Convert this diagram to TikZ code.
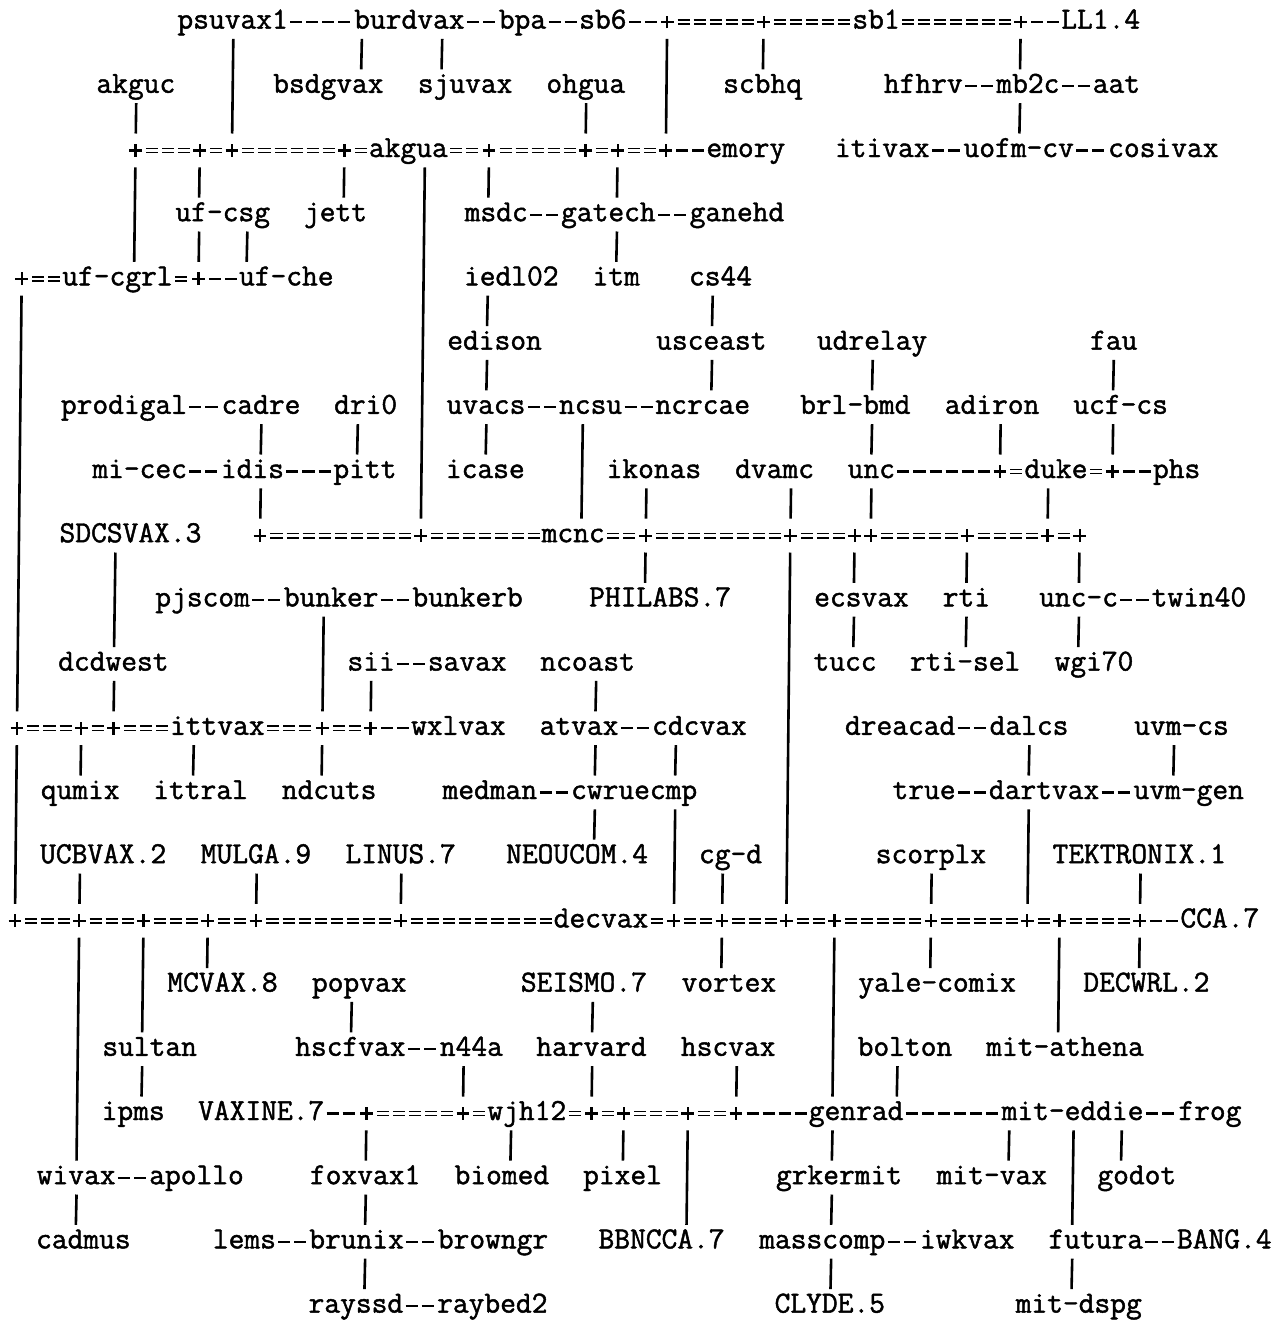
\documentclass[tikz,border=0pt]{standalone}
\usepackage{fontspec}
\newfontfamily\hostfont{Latin Modern Mono}[FakeBold=1.5]
\newcommand{\cw}{8.035pt}
\newcommand{\junc}{\rlap{\rule[-0.55pt]{6.4pt}{1.1pt}}\hspace*{2.65pt}\rule[-3.2pt]{1.1pt}{6.4pt}\hspace*{2.65pt}}

\begin{document}
\begin{tikzpicture}[x=8.035pt, y={(-0.1685pt,-16.05pt)},
    host/.style={anchor=west, inner sep=0pt, text height=11.55pt, text depth=4.95pt,
      font=\hostfont\fontsize{15.3pt}{17pt}\selectfont},
    jn/.style={inner sep=0pt, minimum width=\cw, minimum height=16.5pt},
    link/.style={line width=1.1pt, dash pattern=on 6.035pt off 2pt, dash phase=7.035pt},
    trunk/.style={line width=0.8pt, double=white, double distance=1.3pt,
      dash pattern=on 6.035pt off 2pt, dash phase=7.035pt},
    bar/.style={line width=1.3pt}]
    \fill[white] (-12.2pt,11pt) rectangle (628.8pt,-650.5pt);
    \useasboundingbox (-12.2pt,11pt) rectangle (628.8pt,-650.5pt);

    % Draw nodes
    \node[host] (psuvax1) at (9.5,0) {psuvax1};
    \node[host] (burdvax) at (20.5,0) {burdvax};
    \node[host] (bpa) at (29.5,0) {bpa};
    \node[host] (sb6) at (34.5,0) {sb6};
    \node[jn] (j0a) at (40,0) {\junc};
    \node[jn] (j0b) at (46,0) {\junc};
    \node[host] (sb1) at (51.5,0) {sb1};
    \node[jn] (j0c) at (62,0) {\junc};
    \node[host] (LL14) at (64.5,0) {LL1.4};

    \node[host] (akguc) at (4.5,2) {akguc};
    \node[host] (bsdgvax) at (15.5,2) {bsdgvax};
    \node[host] (sjuvax) at (24.5,2) {sjuvax};
    \node[host] (ohgua) at (32.5,2) {ohgua};
    \node[host] (scbhq) at (43.5,2) {scbhq};
    \node[host] (hfhrv) at (53.5,2) {hfhrv};
    \node[host] (mb2c) at (60.5,2) {mb2c};
    \node[host] (aat) at (66.5,2) {aat};

    \node[jn] (j2a) at (7,4) {\junc};
    \node[jn] (j2b) at (11,4) {\junc};
    \node[jn] (j2c) at (13,4) {\junc};
    \node[jn] (j2d) at (20,4) {\junc};
    \node[host] (akgua) at (21.5,4) {akgua};
    \node[jn] (j2e) at (29,4) {\junc};
    \node[jn] (j2f) at (35,4) {\junc};
    \node[jn] (j2g) at (37,4) {\junc};
    \node[jn] (j2h) at (40,4) {\junc};
    \node[host] (emory) at (42.5,4) {emory};
    \node[host] (itivax) at (50.5,4) {itivax};
    \node[host] (uofmcv) at (58.5,4) {uofm-cv};
    \node[host] (cosivax) at (67.5,4) {cosivax};

    \node[host] (ufcsg) at (9.5,6) {uf-csg};
    \node[host] (jett) at (17.5,6) {jett};
    \node[host] (msdc) at (27.5,6) {msdc};
    \node[host] (gatech) at (33.5,6) {gatech};
    \node[host] (ganehd) at (41.5,6) {ganehd};

    \node[jn] (j4a) at (0,8) {\junc};
    \node[host] (ufcgrl) at (2.5,8) {uf-cgrl};
    \node[jn] (j4b) at (11,8) {\junc};
    \node[host] (ufche) at (13.5,8) {uf-che};
    \node[host] (iedl02) at (27.5,8) {iedl02};
    \node[host] (itm) at (35.5,8) {itm};
    \node[host] (cs44) at (41.5,8) {cs44};

    \node[host] (edison) at (26.5,10) {edison};
    \node[host] (usceast) at (39.5,10) {usceast};
    \node[host] (udrelay) at (49.5,10) {udrelay};
    \node[host] (fau) at (66.5,10) {fau};

    \node[host] (prodigal) at (2.5,12) {prodigal};
    \node[host] (cadre) at (12.5,12) {cadre};
    \node[host] (dri0) at (19.5,12) {dri0};
    \node[host] (uvacs) at (26.5,12) {uvacs};
    \node[host] (ncsu) at (33.5,12) {ncsu};
    \node[host] (ncrcae) at (39.5,12) {ncrcae};
    \node[host] (brlbmd) at (48.5,12) {brl-bmd};
    \node[host] (adiron) at (57.5,12) {adiron};
    \node[host] (ucfcs) at (65.5,12) {ucf-cs};

    \node[host] (micec) at (4.5,14) {mi-cec};
    \node[host] (idis) at (12.5,14) {idis};
    \node[host] (pitt) at (19.5,14) {pitt};
    \node[host] (icase) at (26.5,14) {icase};
    \node[host] (ikonas) at (36.5,14) {ikonas};
    \node[host] (dvamc) at (44.5,14) {dvamc};
    \node[host] (unc) at (51.5,14) {unc};
    \node[jn] (j7a) at (61,14) {\junc};
    \node[host] (duke) at (62.5,14) {duke};
    \node[jn] (j7b) at (68,14) {\junc};
    \node[host] (phs) at (70.5,14) {phs};

    \node[host] (sdcsvax) at (2.5,16) {SDCSVAX.3};
    \node[jn] (j8a) at (15,16) {\junc};
    \node[jn] (j8b) at (25,16) {\junc};
    \node[host] (mcnc) at (32.5,16) {mcnc};
    \node[jn] (j8c) at (39,16) {\junc};
    \node[jn] (j8d) at (48,16) {\junc};
    \node[jn] (j8e) at (52,16) {\junc};
    \node[jn] (j8f) at (53,16) {\junc};
    \node[jn] (j8g) at (59,16) {\junc};
    \node[jn] (j8h) at (64,16) {\junc};
    \node[jn] (j8i) at (66,16) {\junc};

    \node[host] (pjscom) at (8.5,18) {pjscom};
    \node[host] (bunker) at (16.5,18) {bunker};
    \node[host] (bunkerb) at (24.5,18) {bunkerb};
    \node[host] (philabs) at (35.5,18) {PHILABS.7};
    \node[host] (ecsvax) at (49.5,18) {ecsvax};
    \node[host] (rti) at (57.5,18) {rti};
    \node[host] (uncc) at (63.5,18) {unc-c};
    \node[host] (twin40) at (70.5,18) {twin40};

    \node[host] (dcdwest) at (2.5,20) {dcdwest};
    \node[host] (sii) at (20.5,20) {sii};
    \node[host] (savax) at (25.5,20) {savax};
    \node[host] (ncoast) at (32.5,20) {ncoast};
    \node[host] (tucc) at (49.5,20) {tucc};
    \node[host] (rtisel) at (55.5,20) {rti-sel};
    \node[host] (wgi70) at (64.5,20) {wgi70};

    \node[jn] (j11a) at (0,22) {\junc};
    \node[jn] (j11b) at (4,22) {\junc};
    \node[jn] (j11c) at (6,22) {\junc};
    \node[host] (ittvax) at (9.5,22) {ittvax};
    \node[jn] (j11d) at (19,22) {\junc};
    \node[jn] (j11e) at (22,22) {\junc};
    \node[host] (wxlvax) at (24.5,22) {wxlvax};
    \node[host] (atvax) at (32.5,22) {atvax};
    \node[host] (cdcvax) at (39.5,22) {cdcvax};
    \node[host] (dreacad) at (51.5,22) {dreacad};
    \node[host] (dalcs) at (60.5,22) {dalcs};
    \node[host] (uvmcs) at (69.5,22) {uvm-cs};

    \node[host] (qumix) at (1.5,24) {qumix};
    \node[host] (ittral) at (8.5,24) {ittral};
    \node[host] (ndcuts) at (16.5,24) {ndcuts};
    \node[host] (medman) at (26.5,24) {medman};
    \node[host] (cwruecmp) at (34.5,24) {cwruecmp};
    \node[host] (true) at (54.5,24) {true};
    \node[host] (dartvax) at (60.5,24) {dartvax};
    \node[host] (uvmgen) at (69.5,24) {uvm-gen};

    \node[host] (ucbvax) at (1.5,26) {UCBVAX.2};
    \node[host] (mulga) at (11.5,26) {MULGA.9};
    \node[host] (linus) at (20.5,26) {LINUS.7};
    \node[host] (neoucom) at (30.5,26) {NEOUCOM.4};
    \node[host] (cgd) at (42.5,26) {cg-d};
    \node[host] (scorplx) at (53.5,26) {scorplx};
    \node[host] (tektronix) at (64.5,26) {TEKTRONIX.1};

    \node[jn] (j14a) at (0,28) {\junc};
    \node[jn] (j14b) at (4,28) {\junc};
    \node[jn] (j14c) at (8,28) {\junc};
    \node[jn] (j14d) at (12,28) {\junc};
    \node[jn] (j14e) at (15,28) {\junc};
    \node[jn] (j14f) at (24,28) {\junc};
    \node[host] (decvax) at (33.5,28) {decvax};
    \node[jn] (j14g) at (41,28) {\junc};
    \node[jn] (j14h) at (44,28) {\junc};
    \node[jn] (j14i) at (48,28) {\junc};
    \node[jn] (j14j) at (51,28) {\junc};
    \node[jn] (j14k) at (57,28) {\junc};
    \node[jn] (j14l) at (63,28) {\junc};
    \node[jn] (j14m) at (65,28) {\junc};
    \node[jn] (j14n) at (70,28) {\junc};
    \node[host] (cca) at (72.5,28) {CCA.7};

    \node[host] (mcvax) at (9.5,30) {MCVAX.8};
    \node[host] (popvax) at (18.5,30) {popvax};
    \node[host] (seismo) at (31.5,30) {SEISMO.7};
    \node[host] (vortex) at (41.5,30) {vortex};
    \node[host] (yalecomix) at (52.5,30) {yale-comix};
    \node[host] (decwrl) at (66.5,30) {DECWRL.2};

    \node[host] (sultan) at (5.5,32) {sultan};
    \node[host] (hscfvax) at (17.5,32) {hscfvax};
    \node[host] (n44a) at (26.5,32) {n44a};
    \node[host] (harvard) at (32.5,32) {harvard};
    \node[host] (hscvax) at (41.5,32) {hscvax};
    \node[host] (bolton) at (52.5,32) {bolton};
    \node[host] (mitathena) at (60.5,32) {mit-athena};

    \node[host] (ipms) at (5.5,34) {ipms};
    \node[host] (vaxine) at (11.5,34) {VAXINE.7};
    \node[jn] (j17a) at (22,34) {\junc};
    \node[jn] (j17b) at (28,34) {\junc};
    \node[host] (wjh12) at (29.5,34) {wjh12};
    \node[jn] (j17c) at (36,34) {\junc};
    \node[jn] (j17d) at (38,34) {\junc};
    \node[jn] (j17e) at (42,34) {\junc};
    \node[jn] (j17f) at (45,34) {\junc};
    \node[host] (genrad) at (49.5,34) {genrad};
    \node[host] (miteddie) at (61.5,34) {mit-eddie};
    \node[host] (frog) at (72.5,34) {frog};

    \node[host] (wivax) at (1.5,36) {wivax};
    \node[host] (apollo) at (8.5,36) {apollo};
    \node[host] (foxvax1) at (18.5,36) {foxvax1};
    \node[host] (biomed) at (27.5,36) {biomed};
    \node[host] (pixel) at (35.5,36) {pixel};
    \node[host] (grkermit) at (47.5,36) {grkermit};
    \node[host] (mitvax) at (57.5,36) {mit-vax};
    \node[host] (godot) at (67.5,36) {godot};

    \node[host] (cadmus) at (1.5,38) {cadmus};
    \node[host] (lems) at (12.5,38) {lems};
    \node[host] (brunix) at (18.5,38) {brunix};
    \node[host] (browngr) at (26.5,38) {browngr};
    \node[host] (bbncca) at (36.5,38) {BBNCCA.7};
    \node[host] (masscomp) at (46.5,38) {masscomp};
    \node[host] (iwkvax) at (56.5,38) {iwkvax};
    \node[host] (futura) at (64.5,38) {futura};
    \node[host] (bang) at (72.5,38) {BANG.4};

    \node[host] (rayssd) at (18.5,40) {rayssd};
    \node[host] (raybed2) at (26.5,40) {raybed2};
    \node[host] (clyde) at (47.5,40) {CLYDE.5};
    \node[host] (mitdspg) at (62.5,40) {mit-dspg};

    % Draw connections along the lines
    \draw[link] (psuvax1) -- (burdvax);
    \draw[link] (burdvax) -- (bpa);
    \draw[link] (bpa) -- (sb6);
    \draw[link] (sb6) -- (j0a);
    \draw[trunk] (j0a) -- (j0b);
    \draw[trunk] (j0b) -- (sb1);
    \draw[trunk] (sb1) -- (j0c);
    \draw[link] (j0c) -- (LL14);
    \draw[link] (hfhrv) -- (mb2c);
    \draw[link] (mb2c) -- (aat);
    \draw[trunk] (j2a) -- (j2b);
    \draw[trunk] (j2b) -- (j2c);
    \draw[trunk] (j2c) -- (j2d);
    \draw[trunk] (j2d) -- (akgua);
    \draw[trunk] (akgua) -- (j2e);
    \draw[trunk] (j2e) -- (j2f);
    \draw[trunk] (j2f) -- (j2g);
    \draw[trunk] (j2g) -- (j2h);
    \draw[link] (j2h) -- (emory);
    \draw[link] (itivax) -- (uofmcv);
    \draw[link] (uofmcv) -- (cosivax);
    \draw[link] (msdc) -- (gatech);
    \draw[link] (gatech) -- (ganehd);
    \draw[trunk] (j4a) -- (ufcgrl);
    \draw[trunk] (ufcgrl) -- (j4b);
    \draw[link] (j4b) -- (ufche);
    \draw[link] (prodigal) -- (cadre);
    \draw[link] (uvacs) -- (ncsu);
    \draw[link] (ncsu) -- (ncrcae);
    \draw[link] (micec) -- (idis);
    \draw[link] (idis) -- (pitt);
    \draw[link] (unc) -- (j7a);
    \draw[trunk] (j7a) -- (duke);
    \draw[trunk] (duke) -- (j7b);
    \draw[link] (j7b) -- (phs);
    \draw[trunk] (j8a) -- (j8b);
    \draw[trunk] (j8b) -- (mcnc);
    \draw[trunk] (mcnc) -- (j8c);
    \draw[trunk] (j8c) -- (j8d);
    \draw[trunk] (j8d) -- (j8e);
    \draw[trunk] (j8f) -- (j8g);
    \draw[trunk] (j8g) -- (j8h);
    \draw[trunk] (j8h) -- (j8i);
    \draw[link] (pjscom) -- (bunker);
    \draw[link] (bunker) -- (bunkerb);
    \draw[link] (uncc) -- (twin40);
    \draw[link] (sii) -- (savax);
    \draw[trunk] (j11a) -- (j11b);
    \draw[trunk] (j11b) -- (j11c);
    \draw[trunk] (j11c) -- (ittvax);
    \draw[trunk] (ittvax) -- (j11d);
    \draw[trunk] (j11d) -- (j11e);
    \draw[link] (j11e) -- (wxlvax);
    \draw[link] (atvax) -- (cdcvax);
    \draw[link] (dreacad) -- (dalcs);
    \draw[link] (medman) -- (cwruecmp);
    \draw[link] (true) -- (dartvax);
    \draw[link] (dartvax) -- (uvmgen);
    \draw[trunk] (j14a) -- (j14b);
    \draw[trunk] (j14b) -- (j14c);
    \draw[trunk] (j14c) -- (j14d);
    \draw[trunk] (j14d) -- (j14e);
    \draw[trunk] (j14e) -- (j14f);
    \draw[trunk] (j14f) -- (decvax);
    \draw[trunk] (decvax) -- (j14g);
    \draw[trunk] (j14g) -- (j14h);
    \draw[trunk] (j14h) -- (j14i);
    \draw[trunk] (j14i) -- (j14j);
    \draw[trunk] (j14j) -- (j14k);
    \draw[trunk] (j14k) -- (j14l);
    \draw[trunk] (j14l) -- (j14m);
    \draw[trunk] (j14m) -- (j14n);
    \draw[link] (j14n) -- (cca);
    \draw[link] (hscfvax) -- (n44a);
    \draw[link] (vaxine) -- (j17a);
    \draw[trunk] (j17a) -- (j17b);
    \draw[trunk] (j17b) -- (wjh12);
    \draw[trunk] (wjh12) -- (j17c);
    \draw[trunk] (j17c) -- (j17d);
    \draw[trunk] (j17d) -- (j17e);
    \draw[trunk] (j17e) -- (j17f);
    \draw[link] (j17f) -- (genrad);
    \draw[link] (genrad) -- (miteddie);
    \draw[link] (miteddie) -- (frog);
    \draw[link] (wivax) -- (apollo);
    \draw[link] (lems) -- (brunix);
    \draw[link] (brunix) -- (browngr);
    \draw[link] (masscomp) -- (iwkvax);
    \draw[link] (futura) -- (bang);
    \draw[link] (rayssd) -- (raybed2);

    % Draw vertical bars
    \draw[bar] ([xshift=3.5*\cw]psuvax1.south west) -- (j2c);
    \draw[bar] ([xshift=0.5*\cw]burdvax.south west) -- ([xshift=5.5*\cw]bsdgvax.north west);
    \draw[bar] ([xshift=5.5*\cw]burdvax.south west) -- ([xshift=1.5*\cw]sjuvax.north west);
    \draw[bar] (j0a) -- (j2h);
    \draw[bar] (j0b) -- ([xshift=2.5*\cw]scbhq.north west);
    \draw[bar] (j0c) -- ([xshift=1.5*\cw]mb2c.north west);
    \draw[bar] ([xshift=1.5*\cw]mb2c.south west) -- ([xshift=3.5*\cw]uofmcv.north west);
    \draw[bar] ([xshift=2.5*\cw]akguc.south west) -- (j2a);
    \draw[bar] ([xshift=2.5*\cw]ohgua.south west) -- (j2f);
    \draw[bar] (j2a) -- ([xshift=4.5*\cw]ufcgrl.north west);
    \draw[bar] (j2b) -- ([xshift=1.5*\cw]ufcsg.north west);
    \draw[bar] ([xshift=1.5*\cw]ufcsg.south west) -- (j4b);
    \draw[bar] ([xshift=4.5*\cw]ufcsg.south west) -- ([xshift=0.5*\cw]ufche.north west);
    \draw[bar] (j2d) -- ([xshift=2.5*\cw]jett.north west);
    \draw[bar] ([xshift=3.5*\cw]akgua.south west) -- (j8b);
    \draw[bar] (j2e) -- ([xshift=1.5*\cw]msdc.north west);
    \draw[bar] (j2g) -- ([xshift=3.5*\cw]gatech.north west);
    \draw[bar] ([xshift=3.5*\cw]gatech.south west) -- ([xshift=1.5*\cw]itm.north west);
    \draw[bar] (j4a) -- (j11a);
    \draw[bar] ([xshift=1.5*\cw]iedl02.south west) -- ([xshift=2.5*\cw]edison.north west);
    \draw[bar] ([xshift=1.5*\cw]cs44.south west) -- ([xshift=3.5*\cw]usceast.north west);
    \draw[bar] ([xshift=2.5*\cw]edison.south west) -- ([xshift=2.5*\cw]uvacs.north west);
    \draw[bar] ([xshift=3.5*\cw]usceast.south west) -- ([xshift=3.5*\cw]ncrcae.north west);
    \draw[bar] ([xshift=3.5*\cw]udrelay.south west) -- ([xshift=4.5*\cw]brlbmd.north west);
    \draw[bar] ([xshift=1.5*\cw]fau.south west) -- ([xshift=2.5*\cw]ucfcs.north west);
    \draw[bar] ([xshift=2.5*\cw]cadre.south west) -- ([xshift=2.5*\cw]idis.north west);
    \draw[bar] ([xshift=1.5*\cw]dri0.south west) -- ([xshift=1.5*\cw]pitt.north west);
    \draw[bar] ([xshift=2.5*\cw]uvacs.south west) -- ([xshift=2.5*\cw]icase.north west);
    \draw[bar] ([xshift=1.5*\cw]ncsu.south west) -- ([xshift=2.5*\cw]mcnc.north west);
    \draw[bar] ([xshift=4.5*\cw]brlbmd.south west) -- ([xshift=1.5*\cw]unc.north west);
    \draw[bar] ([xshift=3.5*\cw]adiron.south west) -- (j7a);
    \draw[bar] ([xshift=2.5*\cw]ucfcs.south west) -- (j7b);
    \draw[bar] ([xshift=2.5*\cw]idis.south west) -- (j8a);
    \draw[bar] ([xshift=2.5*\cw]ikonas.south west) -- (j8c);
    \draw[bar] ([xshift=3.5*\cw]dvamc.south west) -- (j8d);
    \draw[bar] ([xshift=1.5*\cw]unc.south west) -- (j8f);
    \draw[bar] ([xshift=1.5*\cw]duke.south west) -- (j8h);
    \draw[bar] (j8c) -- ([xshift=3.5*\cw]philabs.north west);
    \draw[bar] (j8d) -- (j14i);
    \draw[bar] (j8e) -- ([xshift=2.5*\cw]ecsvax.north west);
    \draw[bar] (j8g) -- ([xshift=1.5*\cw]rti.north west);
    \draw[bar] (j8i) -- ([xshift=2.5*\cw]uncc.north west);
    \draw[bar] ([xshift=2.5*\cw]ecsvax.south west) -- ([xshift=2.5*\cw]tucc.north west);
    \draw[bar] ([xshift=1.5*\cw]rti.south west) -- ([xshift=3.5*\cw]rtisel.north west);
    \draw[bar] ([xshift=2.5*\cw]uncc.south west) -- ([xshift=1.5*\cw]wgi70.north west);
    \draw[bar] ([xshift=3.5*\cw]sdcsvax.south west) -- ([xshift=3.5*\cw]dcdwest.north west);
    \draw[bar] ([xshift=3.5*\cw]dcdwest.south west) -- (j11c);
    \draw[bar] ([xshift=2.5*\cw]bunker.south west) -- (j11d);
    \draw[bar] ([xshift=1.5*\cw]sii.south west) -- (j11e);
    \draw[bar] ([xshift=3.5*\cw]ncoast.south west) -- ([xshift=3.5*\cw]atvax.north west);
    \draw[bar] (j11a) -- (j14a);
    \draw[bar] (j11b) -- ([xshift=2.5*\cw]qumix.north west);
    \draw[bar] ([xshift=1.5*\cw]ittvax.south west) -- ([xshift=2.5*\cw]ittral.north west);
    \draw[bar] (j11d) -- ([xshift=2.5*\cw]ndcuts.north west);
    \draw[bar] ([xshift=3.5*\cw]atvax.south west) -- ([xshift=1.5*\cw]cwruecmp.north west);
    \draw[bar] ([xshift=1.5*\cw]cdcvax.south west) -- ([xshift=6.5*\cw]cwruecmp.north west);
    \draw[bar] ([xshift=2.5*\cw]dalcs.south west) -- ([xshift=2.5*\cw]dartvax.north west);
    \draw[bar] ([xshift=2.5*\cw]uvmcs.south west) -- ([xshift=2.5*\cw]uvmgen.north west);
    \draw[bar] ([xshift=1.5*\cw]cwruecmp.south west) -- ([xshift=5.5*\cw]neoucom.north west);
    \draw[bar] ([xshift=6.5*\cw]cwruecmp.south west) -- (j14g);
    \draw[bar] ([xshift=2.5*\cw]dartvax.south west) -- (j14l);
    \draw[bar] ([xshift=2.5*\cw]ucbvax.south west) -- (j14b);
    \draw[bar] ([xshift=3.5*\cw]mulga.south west) -- (j14e);
    \draw[bar] ([xshift=3.5*\cw]linus.south west) -- (j14f);
    \draw[bar] ([xshift=1.5*\cw]cgd.south west) -- (j14h);
    \draw[bar] ([xshift=3.5*\cw]scorplx.south west) -- (j14k);
    \draw[bar] ([xshift=5.5*\cw]tektronix.south west) -- (j14n);
    \draw[bar] (j14b) -- ([xshift=2.5*\cw]wivax.north west);
    \draw[bar] (j14c) -- ([xshift=2.5*\cw]sultan.north west);
    \draw[bar] (j14d) -- ([xshift=2.5*\cw]mcvax.north west);
    \draw[bar] (j14h) -- ([xshift=2.5*\cw]vortex.north west);
    \draw[bar] (j14j) -- ([xshift=1.5*\cw]genrad.north west);
    \draw[bar] (j14k) -- ([xshift=4.5*\cw]yalecomix.north west);
    \draw[bar] (j14m) -- ([xshift=4.5*\cw]mitathena.north west);
    \draw[bar] (j14n) -- ([xshift=3.5*\cw]decwrl.north west);
    \draw[bar] ([xshift=2.5*\cw]sultan.south west) -- ([xshift=2.5*\cw]ipms.north west);
    \draw[bar] ([xshift=2.5*\cw]popvax.south west) -- ([xshift=3.5*\cw]hscfvax.north west);
    \draw[bar] ([xshift=4.5*\cw]seismo.south west) -- ([xshift=3.5*\cw]harvard.north west);
    \draw[bar] ([xshift=1.5*\cw]n44a.south west) -- (j17b);
    \draw[bar] ([xshift=3.5*\cw]harvard.south west) -- (j17c);
    \draw[bar] ([xshift=3.5*\cw]hscvax.south west) -- (j17f);
    \draw[bar] ([xshift=2.5*\cw]bolton.south west) -- ([xshift=5.5*\cw]genrad.north west);
    \draw[bar] (j17a) -- ([xshift=3.5*\cw]foxvax1.north west);
    \draw[bar] ([xshift=1.5*\cw]wjh12.south west) -- ([xshift=3.5*\cw]biomed.north west);
    \draw[bar] (j17d) -- ([xshift=2.5*\cw]pixel.north west);
    \draw[bar] (j17e) -- ([xshift=5.5*\cw]bbncca.north west);
    \draw[bar] ([xshift=1.5*\cw]genrad.south west) -- ([xshift=3.5*\cw]grkermit.north west);
    \draw[bar] ([xshift=0.5*\cw]miteddie.south west) -- ([xshift=4.5*\cw]mitvax.north west);
    \draw[bar] ([xshift=4.5*\cw]miteddie.south west) -- ([xshift=1.5*\cw]futura.north west);
    \draw[bar] ([xshift=7.5*\cw]miteddie.south west) -- ([xshift=1.5*\cw]godot.north west);
    \draw[bar] ([xshift=2.5*\cw]wivax.south west) -- ([xshift=2.5*\cw]cadmus.north west);
    \draw[bar] ([xshift=3.5*\cw]foxvax1.south west) -- ([xshift=3.5*\cw]brunix.north west);
    \draw[bar] ([xshift=3.5*\cw]grkermit.south west) -- ([xshift=4.5*\cw]masscomp.north west);
    \draw[bar] ([xshift=3.5*\cw]brunix.south west) -- ([xshift=3.5*\cw]rayssd.north west);
    \draw[bar] ([xshift=4.5*\cw]masscomp.south west) -- ([xshift=3.5*\cw]clyde.north west);
    \draw[bar] ([xshift=1.5*\cw]futura.south west) -- ([xshift=3.5*\cw]mitdspg.north west);
\end{tikzpicture}
\end{document}
